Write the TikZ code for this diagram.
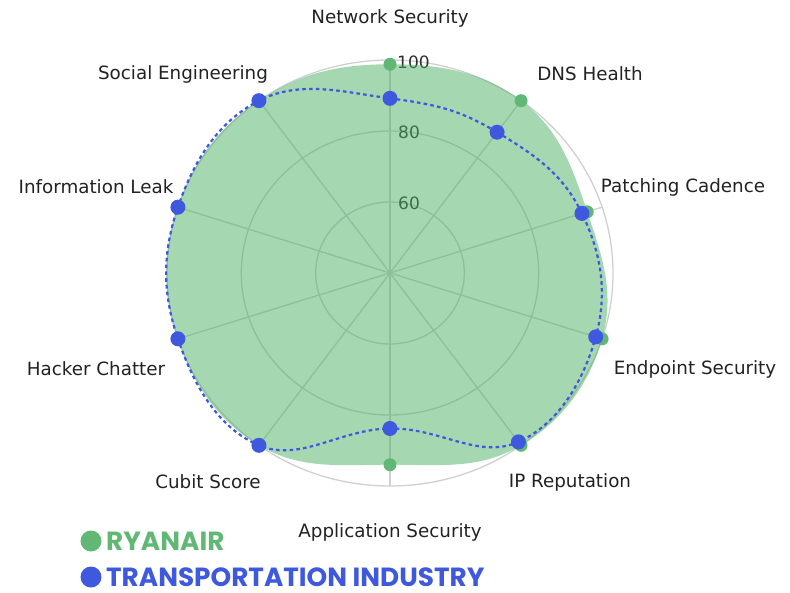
\documentclass[tikz,border=0pt]{standalone}
\usepackage{fontspec}
\setmainfont{DejaVu Sans}
\newfontfamily\legendfont{Poppins}
\definecolor{ryandot}{RGB}{96,184,116}
\definecolor{ryanfill}{RGB}{76,175,100}
\definecolor{transc}{RGB}{62,88,222}
\definecolor{gridc}{RGB}{208,208,208}
\definecolor{labc}{RGB}{34,34,34}
\definecolor{tickc}{RGB}{45,45,45}
\tikzset{
  gridline/.style={draw=gridc, line width=1.3pt},
  axlabel/.style={text=labc, font=\fontsize{18.3}{20}\selectfont, inner sep=0pt},
  ticklab/.style={text=tickc, font=\fontsize{17}{19}\selectfont, inner sep=0pt, anchor=west},
  legtext/.style={font=\legendfont\bfseries\fontsize{26.3}{28}\selectfont, inner sep=0pt, anchor=west},
  gdot/.style={fill=ryandot},
  bdot/.style={fill=transc},
}
\begin{document}
\begin{tikzpicture}[x=1pt,y=-1pt]
\useasboundingbox (0,0) rectangle (790,592);
\def\cx{390}\def\cy{273}\def\rx{223}\def\ry{213}
\coordinate (c) at (\cx,\cy);
% grid rings
\foreach \k in {0.3333,0.6667,1} \draw[gridline] (c) ellipse [x radius={\rx*\k}, y radius={\ry*\k}];
% spokes
\foreach \n/\a in {1/90,2/54,3/18,4/-18,5/-54,6/-90,7/-126,8/-162,9/162,10/126}
  \coordinate (s\n) at ({\cx+\rx*cos(\a)},{\cy-\ry*sin(\a)});
\foreach \n in {1,...,10} \draw[gridline] (c) -- (s\n);
% tick labels
\node[ticklab] (t100) at (397,62) {100};
\node[ticklab] (t80) at (398,132) {80};
\node[ticklab] (t60) at (398,203) {60};
% data points
\foreach \n/\a/\f in {1/90/0.98,2/54/1.0,3/18/0.93,4/-18/1.0,5/-54/1.0,6/-90/0.90,7/-126/1.0,8/-162/1.0,9/162/1.0,10/126/1.0}
  \coordinate (g\n) at ({\cx+\rx*\f*cos(\a)},{\cy-\ry*\f*sin(\a)});
\foreach \n/\a/\f in {1/90/0.82,2/54/0.817,3/18/0.905,4/-18/0.97,5/-54/0.98,6/-90/0.73,7/-126/1.0,8/-162/1.0,9/162/1.0,10/126/1.0}
  \coordinate (b\n) at ({\cx+\rx*\f*cos(\a)},{\cy-\ry*\f*sin(\a)});
% ryanair fill
\fill[ryanfill, opacity=0.5] plot[smooth cycle, tension=0.7] coordinates {(g1) (g2) (g3) (g4) (g5) (g6) (g7) (g8) (g9) (g10)};
% transportation dashed line
\draw[transc, line width=2.2pt, dash pattern=on 3.6pt off 3.2pt] plot[smooth cycle, tension=0.7] coordinates {(b1) (b2) (b3) (b4) (b5) (b6) (b7) (b8) (b9) (b10)};
% dots
\foreach \n in {1,...,10} \fill[gdot] (g\n) circle (6.5);
\foreach \n in {1,...,10} \fill[bdot] (b\n) circle (7.5);
% axis labels
\node[axlabel] (lNS) at (390,18) {Network Security};
\node[axlabel] (lDNS) at (590,74) {DNS Health};
\node[axlabel] (lPC) at (683,187) {Patching Cadence};
\node[axlabel] (lES) at (695,369) {Endpoint Security};
\node[axlabel] (lIP) at (570,482) {IP Reputation};
\node[axlabel] (lAS) at (390,532) {Application Security};
\node[axlabel] (lCS) at (208,482) {Cubit Score};
\node[axlabel] (lHC) at (96,369) {Hacker Chatter};
\node[axlabel] (lIL) at (96,187) {Information Leak};
\node[axlabel] (lSE) at (183,74) {Social Engineering};
% legend
\fill[gdot] (91,541) circle (10.5);
\node[legtext, text=ryandot] (legR) at (106,541) {RYANAIR};
\fill[bdot] (91,577) circle (10.5);
\node[legtext, text=transc] (legT) at (106,577) {TRANSPORTATION INDUSTRY};
\end{tikzpicture}
\end{document}
